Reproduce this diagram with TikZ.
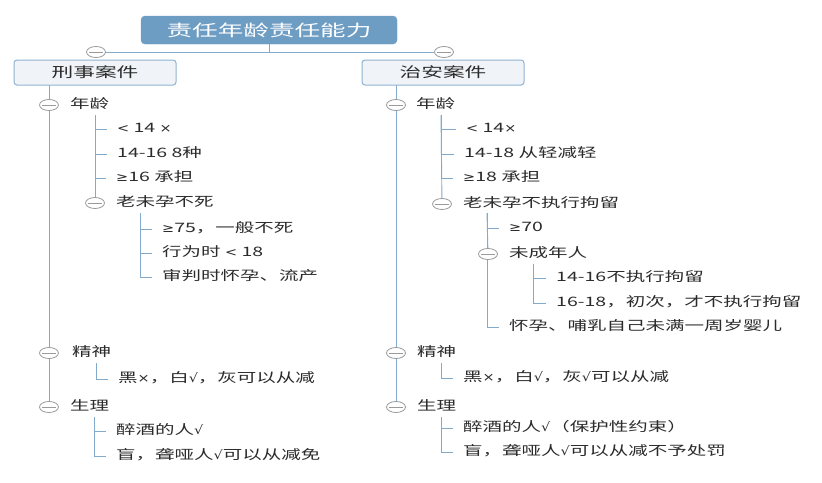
\documentclass[tikz,border=0pt]{standalone}
\usepackage{fontspec}
\setmainfont[FakeStretch=1.5]{Noto Sans CJK SC}
\newfontfamily\rootf[FakeStretch=1.6]{Noto Sans CJK SC}
\newfontfamily\brf[FakeStretch=1.55]{Noto Sans CJK SC}
\newfontfamily\symf[FakeStretch=1.2]{DejaVu Sans}
\newcommand{\sy}[1]{{\symf\fontsize{12}{14}\selectfont #1}}
\usetikzlibrary{shapes.geometric,backgrounds}
\definecolor{linec}{HTML}{84AACB}
\definecolor{togc}{HTML}{9A9A9A}
\definecolor{txtc}{HTML}{2B2B2B}
\definecolor{rootfill}{HTML}{6E9DC4}
\definecolor{brfill}{HTML}{F0F4F8}
\definecolor{brdraw}{HTML}{8FB3D3}
\tikzset{
  conn/.style={draw=linec, line width=0.9pt},
  leaf/.style={conn, shorten >=10pt},
  txt/.style={anchor=west, inner sep=0pt, text=txtc, font=\fontsize{13}{15}\selectfont, text height=10pt, text depth=2.5pt},
  tog/.style={ellipse, draw=togc, fill=white, line width=0.8pt, minimum width=19pt, minimum height=11pt, inner sep=0pt,
    path picture={\draw[togc,line width=0.8pt] ([xshift=-7pt]path picture bounding box.center) -- ([xshift=7pt]path picture bounding box.center);}},
  rootbox/.style={rounded corners=4pt, fill=rootfill, draw=rootfill, text=white, minimum width=256pt, minimum height=28pt, inner sep=0pt, font=\rootf\fontsize{16}{18}\selectfont},
  branch/.style={rounded corners=3pt, fill=brfill, draw=brdraw, line width=1pt, text=txtc, minimum width=162pt, minimum height=25pt, inner sep=0pt, font=\brf\fontsize{14}{16}\selectfont}
}
\begin{document}
\begin{tikzpicture}[x=1pt,y=-1pt]
\useasboundingbox (0,0) rectangle (822,482);

% root and branches
\node[rootbox] (root) at (269,30) {责任年龄责任能力};
\coordinate (rj) at (269,52);
\node[tog] (tL) at (96,52) {};
\node[tog] (tR) at (444,52) {};
\node[branch] (bL) at (95,72.5) {刑事案件};
\node[branch] (bR) at (443,72.5) {治安案件};

% ---------- left ----------
\coordinate (Ltop) at (49,85);
\node[tog] (gL1) at (49,105) {};
\node[tog] (gL2) at (49,353) {};
\node[tog] (gL3) at (49,407) {};
\node[txt] (nL1) at (70,105) {年龄};
\node[txt] (nL2) at (72,353) {精神};
\node[txt] (nL3) at (70,407) {生理};

\coordinate (a0) at (95,115);
\node[txt] (a1) at (117,129) {\sy{<} 14 \sy{×}};
\node[txt] (a2) at (117,154) {14-16 8种};
\node[txt] (a3) at (116,178) {\sy{≥}16 承担};
\node[tog] (ga4) at (95,203) {};
\node[txt] (a4) at (116,203) {老未孕不死};

\coordinate (b0) at (140,213);
\node[txt] (b1) at (162,229) {\sy{≥}75，一般不死};
\node[txt] (b2) at (162,253) {行为时 \sy{<} 18};
\node[txt] (b3) at (162,277) {审判时怀孕、流产};

\coordinate (c0) at (96,363);
\node[txt] (c1) at (118,379) {黑\sy{×}，白\sy{√}，灰可以从减};

\coordinate (d0) at (94,417);
\node[txt] (d1) at (116,431) {醉酒的人\sy{√}};
\node[txt] (d2) at (116,456) {盲，聋哑人\sy{√}可以从减免};

% ---------- right ----------
\coordinate (Rtop) at (396,85);
\node[tog] (gR1) at (396,105) {};
\node[tog] (gR2) at (396,353) {};
\node[tog] (gR3) at (396,407) {};
\node[txt] (nR1) at (416,105) {年龄};
\node[txt] (nR2) at (417,353) {精神};
\node[txt] (nR3) at (417,407) {生理};

\coordinate (e0) at (441,115);
\node[txt] (e1) at (466,129) {\sy{<} 14\sy{×}};
\node[txt] (e2) at (464,154) {14-18 从轻减轻};
\node[txt] (e3) at (463,178) {\sy{≥}18 承担};
\node[tog] (ge4) at (442,204) {};
\node[txt] (e4) at (463,204) {老未孕不执行拘留};

\coordinate (f0) at (487,213);
\node[txt] (f1) at (509,228) {\sy{≥}70};
\node[tog] (gf2) at (488,254) {};
\node[txt] (f2) at (509,254) {未成年人};
\node[txt] (f3) at (509,327) {怀孕、哺乳自己未满一周岁婴儿};

\coordinate (g0) at (533,264);
\node[txt] (g1) at (556,278) {14-16不执行拘留};
\node[txt] (g2) at (556,303) {16-18，初次，才不执行拘留};

\coordinate (h0) at (441,363);
\node[txt] (h1) at (463,378) {黑\sy{×}，白\sy{√}，灰\sy{√}可以从减};

\coordinate (i0) at (441,417);
\node[txt] (i1) at (463,428) {醉酒的人\sy{√}（保护性约束）};
\node[txt] (i2) at (463,452) {盲，聋哑人\sy{√}可以从减不予处罚};

% ---------- connectors ----------
\begin{scope}[on background layer]
\fill[white] (0,0) rectangle (822,482);
\draw[conn] (root.south) -- (rj);
\draw[conn] (tL) -- (tR);
\draw[conn] (Ltop) -- (gL3);
\draw[conn] (Rtop) -- (gR3);
% left
\draw[leaf] (a0) |- (a1.west);
\draw[leaf] (a0) |- (a2.west);
\draw[leaf] (a0) |- (a3.west);
\draw[conn] (a0) -- (ga4);
\draw[leaf] (b0) |- (b1.west);
\draw[leaf] (b0) |- (b2.west);
\draw[leaf] (b0) |- (b3.west);
\draw[leaf] (c0) |- (c1.west);
\draw[leaf] (d0) |- (d1.west);
\draw[leaf] (d0) |- (d2.west);
% right
\draw[leaf] (e0) |- (e1.west);
\draw[leaf] (e0) |- (e2.west);
\draw[leaf] (e0) |- (e3.west);
\draw[conn] (e0) -- (ge4);
\draw[leaf] (f0) |- (f1.west);
\draw[conn] (f0) -- (gf2);
\draw[leaf] (f0) |- (f3.west);
\draw[leaf] (g0) |- (g1.west);
\draw[leaf] (g0) |- (g2.west);
\draw[leaf] (h0) |- (h1.west);
\draw[leaf] (i0) |- (i1.west);
\draw[leaf] (i0) |- (i2.west);
\end{scope}
\end{tikzpicture}
\end{document}
